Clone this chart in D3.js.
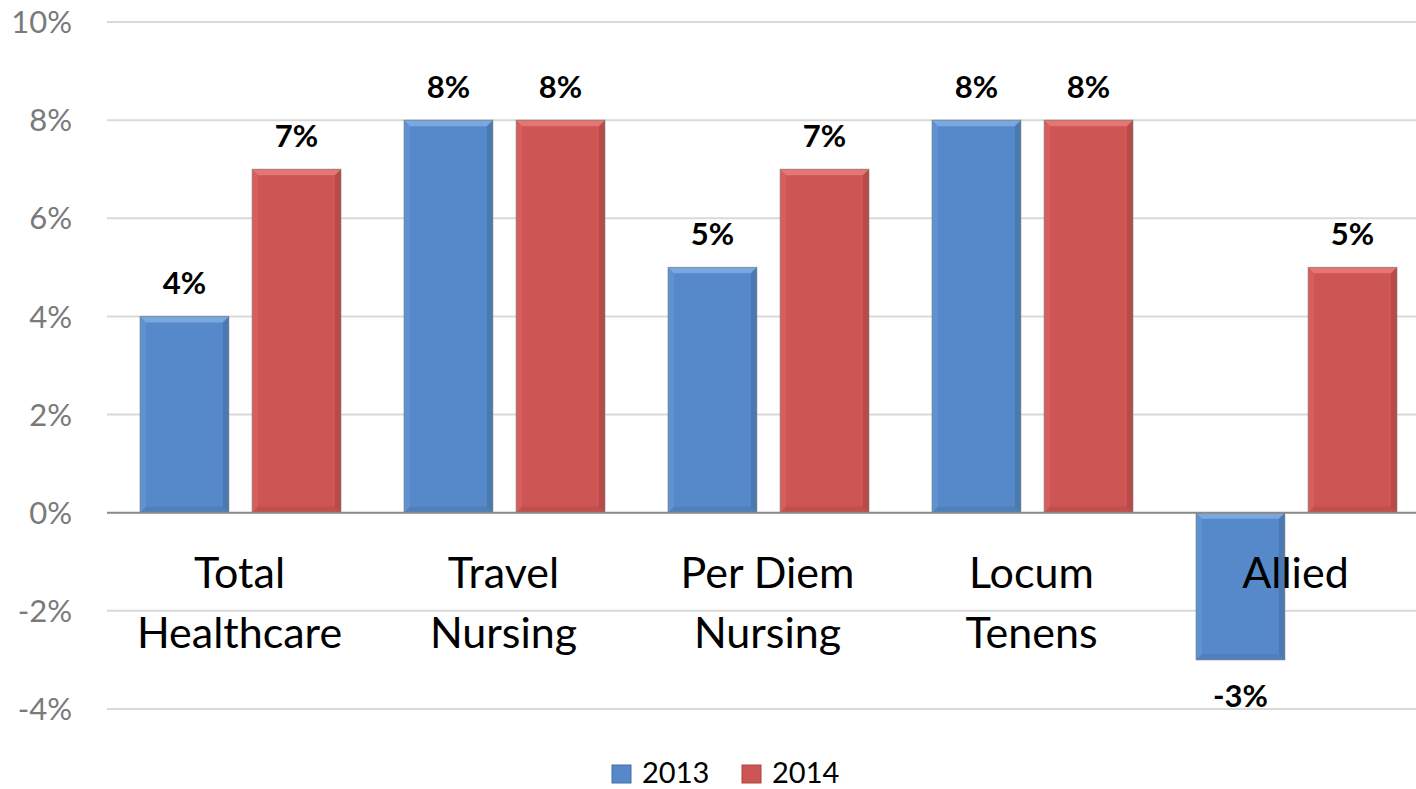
<!DOCTYPE html>
<html>
<head>
<meta charset="utf-8">
<script src="https://cdn.jsdelivr.net/npm/d3@7"></script>
<style>
  html, body { margin: 0; padding: 0; background: #fff; }
  svg { display: block; font-family: Lato, "Open Sans", sans-serif; }
</style>
</head>
<body>
<svg id="chart" width="1416" height="789"></svg>
<script>
// data
const categories = [["Total", "Healthcare"], ["Travel", "Nursing"], ["Per Diem", "Nursing"], ["Locum", "Tenens"], ["Allied"]]
const seriesNames = ["2013", "2014"]
const values2013 = [4, 8, 5, 8, -3]
const values2014 = [7, 8, 7, 8, 5]
const yTicks = [-4, -2, 0, 2, 4, 6, 8, 10]

const colors = {
    "2013": { main: "#5589CA", light: "#7BA7DF", dark: "#44709F" },
    "2014": { main: "#CD5553", light: "#E47673", dark: "#A94442" }
}

const svg = d3.select("#chart")
const plotLeft = 107, plotRight = 1416, plotTop = 22, plotBottom = 709

const catKeys = categories.map(c => c.join(" "))

// the last category runs a little past the right edge of the picture
const x0 = d3.scaleBand()
    .domain(catKeys)
    .range([108.5, 1428.5])
    .padding(0)

const x1 = d3.scaleBand()
    .domain(seriesNames)
    .range([31.5, x0.bandwidth() - 31.5])
    .paddingInner(0.207)

const y = d3.scaleLinear()
    .domain([-4, 10])
    .range([plotBottom, plotTop])

// gridlines
svg.append("g")
    .selectAll("line")
    .data(yTicks.filter(t => t != 0))
    .join("line")
    .attr("x1", plotLeft).attr("x2", plotRight)
    .attr("y1", d => y(d)).attr("y2", d => y(d))
    .attr("stroke", "#D9D9D9")
    .attr("stroke-width", 2)

// y tick labels
svg.append("g")
    .selectAll("text")
    .data(yTicks)
    .join("text")
    .attr("x", 72)
    .attr("y", d => y(d))
    .attr("dy", "0.36em")
    .attr("text-anchor", "end")
    .attr("font-size", 31)
    .attr("fill", "#7A7A7A")
    .text(d => d + "%")

// flatten data
const rows = []
catKeys.forEach((c, i) => {
    rows.push({ cat: c, series: "2013", value: values2013[i] })
    rows.push({ cat: c, series: "2014", value: values2014[i] })
})

const bev = 6
const bars = svg.append("g")
const labels = svg.append("g")

rows.forEach(d => {
    const bx = x0(d.cat) + x1(d.series)
    const bw = x1.bandwidth()
    const y1 = Math.min(y(d.value), y(0))
    const y2 = Math.max(y(d.value), y(0))
    const col = colors[d.series]
    const g = bars.append("g")
    g.append("rect")
        .attr("x", bx).attr("y", y1)
        .attr("width", bw).attr("height", y2 - y1)
        .attr("fill", col.main)
    // top bevel
    g.append("polygon")
        .attr("points", [[bx, y1], [bx + bw, y1], [bx + bw - bev, y1 + bev], [bx + bev, y1 + bev]].join(" "))
        .attr("fill", col.light)
    // right bevel
    g.append("polygon")
        .attr("points", [[bx + bw, y1], [bx + bw, y2], [bx + bw - bev, y2 - bev], [bx + bw - bev, y1 + bev]].join(" "))
        .attr("fill", col.dark).attr("opacity", 0.6)
    // bottom bevel
    g.append("polygon")
        .attr("points", [[bx, y2], [bx + bw, y2], [bx + bw - bev, y2 - bev], [bx + bev, y2 - bev]].join(" "))
        .attr("fill", col.dark).attr("opacity", 0.35)
    // left bevel
    g.append("polygon")
        .attr("points", [[bx, y1], [bx + bev, y1 + bev], [bx + bev, y2 - bev], [bx, y2]].join(" "))
        .attr("fill", col.light).attr("opacity", 0.3)
    g.append("rect")
        .attr("x", bx).attr("y", y1)
        .attr("width", bw).attr("height", y2 - y1)
        .attr("fill", "none")
        .attr("stroke", "#7F7F7F").attr("stroke-opacity", 0.6)
        .attr("stroke-width", 1)

    // value label
    labels.append("text")
        .attr("x", bx + bw / 2)
        .attr("y", d.value >= 0 ? y(d.value) - 22 : y(d.value) + 47)
        .attr("text-anchor", "middle")
        .attr("font-size", 31)
        .attr("font-weight", "bold")
        .attr("fill", "#000")
        .text(d.value + "%")
})

// zero line
svg.append("line")
    .attr("x1", plotLeft).attr("x2", plotRight)
    .attr("y1", y(0)).attr("y2", y(0))
    .attr("stroke", "#898989")
    .attr("stroke-width", 2)

// category labels
const catLabels = svg.append("g")
catKeys.forEach((c, i) => {
    const t = catLabels.append("text")
        .attr("text-anchor", "middle")
        .attr("font-size", 43)
        .attr("fill", "#000")
    categories[i].forEach((line, j) => {
        t.append("tspan")
            .attr("x", x0(c) + x0.bandwidth() / 2 - 1)
            .attr("y", 588 + j * 60)
            .text(line)
    })
})

// legend
const legendX = [612, 742]
const legend = svg.append("g")
seriesNames.forEach((s, i) => {
    const col = colors[s]
    legend.append("rect")
        .attr("x", legendX[i]).attr("y", 765)
        .attr("width", 19).attr("height", 18)
        .attr("fill", col.main)
        .attr("stroke", col.dark).attr("stroke-width", 1)
    legend.append("text")
        .attr("x", legendX[i] + 30)
        .attr("y", 783)
        .attr("font-size", 29)
        .attr("fill", "#000")
        .text(s)
})
</script>
</body>
</html>
